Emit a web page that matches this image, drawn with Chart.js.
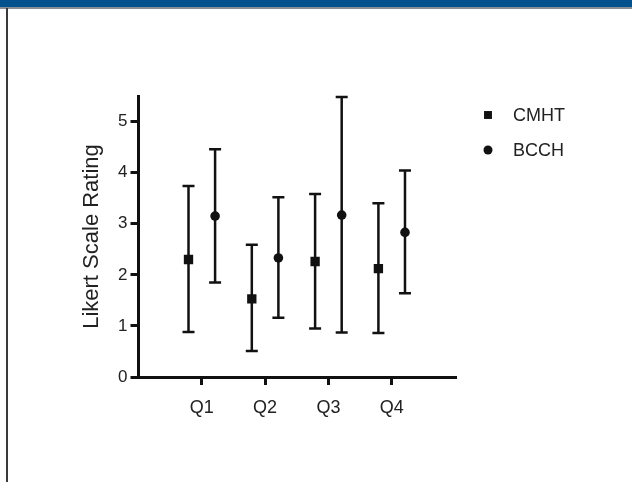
<!DOCTYPE html>
<html>
<head>
<meta charset="utf-8">
<script src="https://cdn.jsdelivr.net/npm/chart.js@4.4.1/dist/chart.umd.min.js"></script>
<style>
  html, body { margin: 0; padding: 0; background: #fff; }
  .topbar { position: absolute; left: 0; top: 0; width: 632px; height: 7px; background: #03528e; }
  .topline { position: absolute; left: 0; top: 7px; width: 632px; height: 2px; background: #8a8f96; }
  .leftline { position: absolute; left: 6px; top: 8px; width: 2px; height: 474px; background: #3a3a3a; }
  .wrap { position: absolute; left: 0; top: 0; width: 632px; height: 482px; }
</style>
</head>
<body>
<div class="wrap"><canvas id="c" width="632" height="482"></canvas></div>
<div class="topbar"></div>
<div class="topline"></div>
<div class="leftline"></div>
<script>
// categories and series (mean with low/high error limits)
const categories = ['Q1', 'Q2', 'Q3', 'Q4'];
const cmhtMean = [2.30, 1.53, 2.26, 2.12];
const cmhtLow  = [0.88, 0.51, 0.95, 0.86];
const cmhtHigh = [3.74, 2.59, 3.58, 3.40];
const bcchMean = [3.15, 2.33, 3.17, 2.83];
const bcchLow  = [1.85, 1.16, 0.87, 1.64];
const bcchHigh = [4.46, 3.52, 5.48, 4.04];
const yTicks = [0, 1, 2, 3, 4, 5];

const shift = 0.21;
const ink = '#111';
const font = 'Liberation Sans, Arial, sans-serif';

function pts(mean, low, high, dx) {
  return mean.map((v, i) => ({ x: i + 1 + dx, y: v, lo: low[i], hi: high[i] }));
}

const errorBars = {
  id: 'errorBars',
  beforeDatasetsDraw(chart) {
    const ctx = chart.ctx, xs = chart.scales.x, ys = chart.scales.y;
    ctx.save();
    ctx.strokeStyle = ink;
    ctx.lineWidth = 2.5;
    chart.data.datasets.forEach(ds => {
      ds.data.forEach(p => {
        const x = xs.getPixelForValue(p.x);
        const y1 = ys.getPixelForValue(p.lo), y2 = ys.getPixelForValue(p.hi);
        ctx.beginPath();
        ctx.moveTo(x, y1); ctx.lineTo(x, y2);
        ctx.moveTo(x - 6, y1); ctx.lineTo(x + 6, y1);
        ctx.moveTo(x - 6, y2); ctx.lineTo(x + 6, y2);
        ctx.stroke();
      });
    });
    ctx.restore();
  }
};

const sideLegend = {
  id: 'sideLegend',
  afterDraw(chart) {
    const ctx = chart.ctx;
    ctx.save();
    ctx.font = '18px ' + font;
    ctx.textBaseline = 'middle';
    chart.data.datasets.forEach((ds, i) => {
      const y = 115 + i * 35;
      ctx.fillStyle = ink;
      Chart.helpers.drawPoint(ctx, { pointStyle: ds.pointStyle, radius: i === 0 ? 5.6 : 4.5, borderWidth: 0 }, 488, y);
      ctx.fillStyle = '#222';
      ctx.fillText(ds.label, 513, y + 1);
    });
    ctx.restore();
  }
};

new Chart(document.getElementById('c'), {
  type: 'scatter',
  data: {
    datasets: [
      { label: 'CMHT', data: pts(cmhtMean, cmhtLow, cmhtHigh, -shift), pointStyle: 'rect', pointRadius: 6.6, backgroundColor: ink, borderColor: ink, borderWidth: 0 },
      { label: 'BCCH', data: pts(bcchMean, bcchLow, bcchHigh, shift), pointStyle: 'circle', pointRadius: 4.8, backgroundColor: ink, borderColor: ink, borderWidth: 0 }
    ]
  },
  options: {
    responsive: false,
    animation: false,
    layout: { padding: { left: 70, top: 96, right: 177, bottom: 55 } },
    plugins: { legend: { display: false }, tooltip: { enabled: false } },
    scales: {
      x: {
        type: 'linear', min: 0, max: 5,
        afterBuildTicks: s => { s.ticks = categories.map((c, i) => ({ value: i + 1 })); },
        afterFit: s => { s.height = 50; },
        ticks: { callback: v => categories[v - 1] || '', color: '#222', padding: 12, font: { family: font, size: 18 } },
        grid: { drawOnChartArea: false, drawTicks: true, tickLength: 8, color: ink, lineWidth: 3 },
        border: { display: true, color: ink, width: 3 }
      },
      y: {
        min: 0, max: 5.5,
        afterBuildTicks: s => { s.ticks = yTicks.map(v => ({ value: v })); },
        afterFit: s => { s.width = 68.5; },
        ticks: { color: '#222', padding: 3, font: { family: font, size: 17 } },
        grid: { drawOnChartArea: false, drawTicks: true, tickLength: 8, color: ink, lineWidth: 3 },
        border: { display: true, color: ink, width: 3 },
        title: { display: true, text: 'Likert Scale Rating', color: '#222', padding: { top: 9, bottom: 0 }, font: { family: font, size: 22 } }
      }
    }
  },
  plugins: [errorBars, sideLegend]
});
</script>
</body>
</html>
